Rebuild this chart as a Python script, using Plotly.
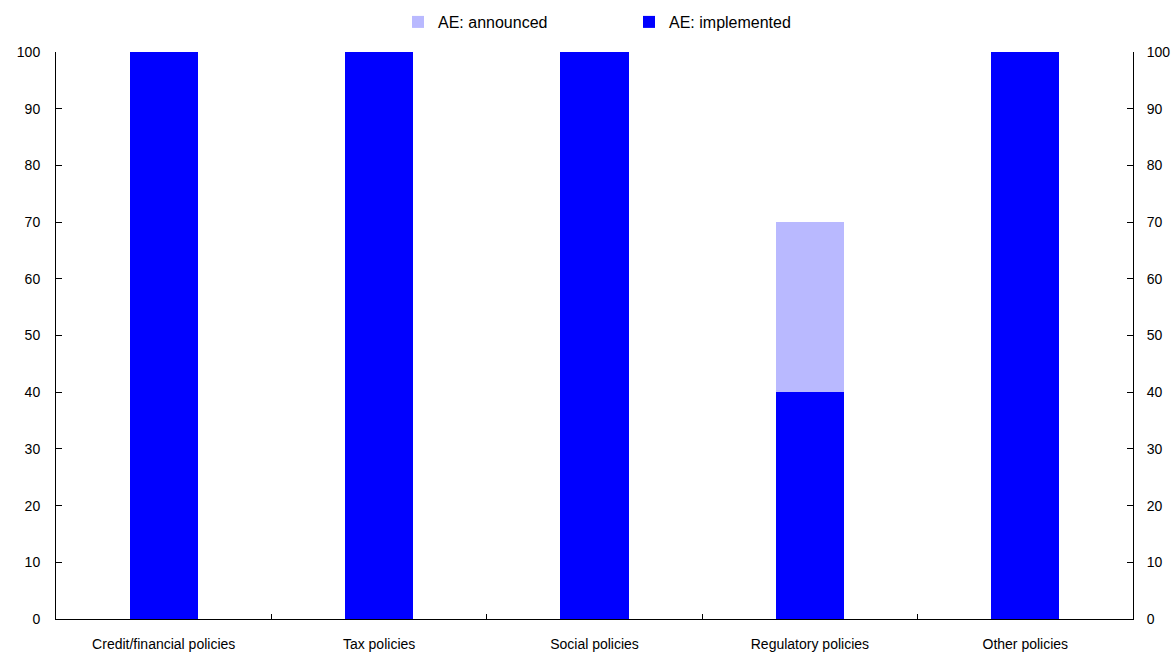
import plotly.graph_objects as go

categories = ["Credit/financial policies", "Tax policies", "Social policies", "Regulatory policies", "Other policies"]
implemented = [100, 100, 100, 40, 100]
announced = [0, 0, 0, 30, 0]

FONT = "Liberation Sans Narrow, Arial Narrow, Liberation Sans, Arial"

fig = go.Figure()
fig.add_trace(go.Bar(x=categories, y=implemented, name="AE: implemented",
                     marker=dict(color="#0000FF", line=dict(width=0)), width=0.317, legendrank=2))
fig.add_trace(go.Bar(x=categories, y=announced, name="AE: announced",
                     marker=dict(color="#B9B9FF", line=dict(width=0)), width=0.317, legendrank=1))
# invisible trace for right axis
fig.add_trace(go.Scatter(x=categories, y=implemented, yaxis="y2", mode="markers",
                         marker=dict(opacity=0), showlegend=False, hoverinfo="skip"))

axis_common = dict(range=[0, 100], dtick=10, tick0=0, showgrid=False, zeroline=False,
                   showline=True, linecolor="black", linewidth=1, automargin=False,
                   ticks="inside", ticklen=6, tickcolor="black",
                   tickfont=dict(family=FONT, size=14, color="black"))

fig.update_layout(
    width=1171, height=653,
    margin=dict(l=56, r=38, t=52, b=34),
    barmode="stack",
    plot_bgcolor="white", paper_bgcolor="white",
    font=dict(family=FONT, size=14, color="black"),
    showlegend=True,
    legend=dict(orientation="h", xref="container", yref="container",
                x=0.3399, xanchor="left", y=0.9663, yanchor="middle",
                font=dict(family=FONT, size=16, color="black"),
                entrywidth=186, entrywidthmode="pixels", itemwidth=30,
                traceorder="normal"),
    xaxis=dict(type="category", showgrid=False, showline=True, linecolor="black", linewidth=1,
               automargin=False,
               ticks="inside", tickson="boundaries", ticklen=5, tickcolor="black",
               ticklabelstandoff=12,
               tickfont=dict(family=FONT, size=14, color="black")),
    yaxis=dict(**axis_common, side="left", ticklabelstandoff=12),
    yaxis2=dict(**axis_common, side="right", overlaying="y", ticklabelstandoff=10),
)

fig.write_html("out.html")
